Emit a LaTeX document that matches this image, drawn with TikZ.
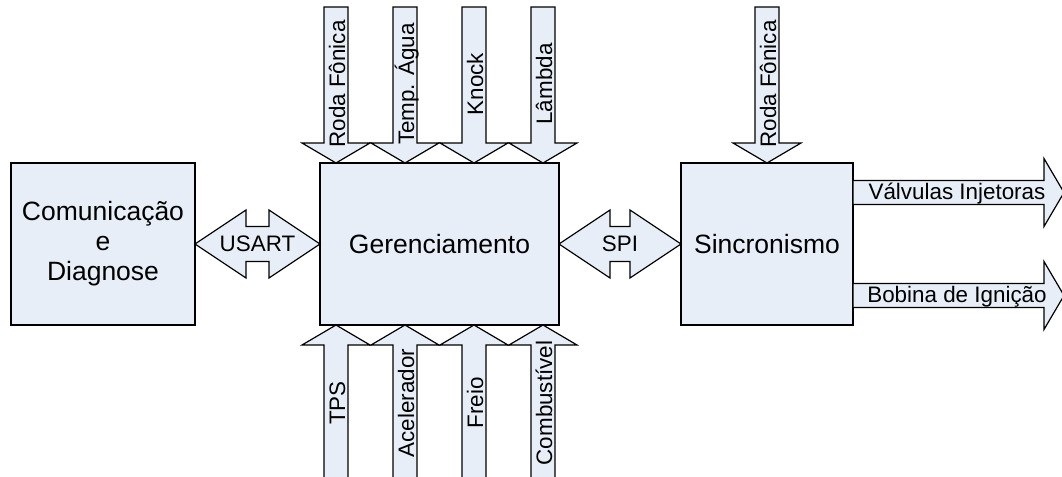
\documentclass[tikz,border=0pt]{standalone}
\usepackage{fontspec}
\setmainfont{Liberation Sans}
\usepackage{xcolor}
\usetikzlibrary{calc,positioning}
\definecolor{blockfill}{RGB}{232,238,248}

\begin{document}
\begin{tikzpicture}[
x=0.5pt,y=-0.5pt,
box/.style={draw,fill=blockfill,line width=0.6pt,align=center,minimum height=81pt,inner sep=0pt,outer sep=0pt,font=\fontsize{13.25}{15}\selectfont},
lbl/.style={inner sep=0pt,text height=0.72em,text depth=0pt,font=\fontsize{11.2}{13}\selectfont},
vlbl/.style={lbl,rotate=90},
sig/.style={draw,fill=blockfill,line width=0.6pt,to path={
  let \p1=($(\tikztotarget)!10pt!(\tikztostart)$) in
  ($(\tikztostart)!6pt!90:(\tikztotarget)$) -- ($(\p1)!6pt!90:(\tikztotarget)$)
  -- ($(\p1)!17pt!90:(\tikztotarget)$) -- (\tikztotarget)
  -- ($(\p1)!17pt!-90:(\tikztotarget)$) -- ($(\p1)!6pt!-90:(\tikztotarget)$)
  -- ($(\tikztostart)!6pt!-90:(\tikztotarget)$) -- cycle}},
bus/.style={draw,fill=blockfill,line width=0.6pt,to path={
  let \p1=($(\tikztostart)!25.5pt!(\tikztotarget)$),
      \p2=($(\tikztotarget)!25.5pt!(\tikztostart)$) in
  (\tikztostart) -- ($(\p1)!17pt!90:(\tikztotarget)$) -- ($(\p1)!8.75pt!90:(\tikztotarget)$)
  -- ($(\p2)!8.75pt!90:(\tikztotarget)$) -- ($(\p2)!17pt!90:(\tikztotarget)$)
  -- (\tikztotarget)
  -- ($(\p2)!17pt!-90:(\tikztotarget)$) -- ($(\p2)!8.75pt!-90:(\tikztotarget)$)
  -- ($(\p1)!8.75pt!-90:(\tikztotarget)$) -- ($(\p1)!17pt!-90:(\tikztotarget)$)
  -- cycle}}
]
\useasboundingbox (0,0) rectangle (1062,477);
\clip (0,0) rectangle (1062,477);

% blocos
\node[box,minimum width=92pt] (com) at (103,244) {Comunicação\\e\\Diagnose};
\node[box,minimum width=119.5pt,right=62.5pt of com] (ger) {Gerenciamento};
\node[box,minimum width=86pt,right=61pt of ger] (sin) {Sincronismo};

% entradas e saidas
\coordinate (rf1) at (336,7);
\coordinate (tmp) at (405,7);
\coordinate (knk) at (474,7);
\coordinate (lmb) at (543,7);
\coordinate (tps) at (336,482);
\coordinate (acl) at (405,482);
\coordinate (fre) at (474,482);
\coordinate (cmb) at (543,482);
\coordinate (rf2) at (767,7);
\coordinate (vin) at (1064,192.5);
\coordinate (bob) at (1064,295.5);

\draw[sig] (rf1) to (rf1 |- ger.north);
\draw[sig] (tmp) to (tmp |- ger.north);
\draw[sig] (knk) to (knk |- ger.north);
\draw[sig] (lmb) to (lmb |- ger.north);
\draw[sig] (tps) to (tps |- ger.south);
\draw[sig] (acl) to (acl |- ger.south);
\draw[sig] (fre) to (fre |- ger.south);
\draw[sig] (cmb) to (cmb |- ger.south);
\draw[sig] (rf2) to (rf2 |- sin.north);
\draw[sig] (vin -| sin.east) to (vin);
\draw[sig] (bob -| sin.east) to (bob);
\draw[bus] (com.east) to (ger.west);
\draw[bus] (ger.east) to (sin.west);

% rotulos
\node[vlbl] (lrf1) at ($(rf1)+(2,77)$) {Roda Fônica};
\node[vlbl] (ltmp) at ($(tmp)+(2,77)$) {Temp. Água};
\node[vlbl] (lknk) at ($(knk)+(2,77)$) {Knock};
\node[vlbl] (llmb) at ($(lmb)+(2,77)$) {Lâmbda};
\node[vlbl] (ltps) at ($(tps)+(2,-79)$) {TPS};
\node[vlbl] (lacl) at ($(acl)+(2,-79)$) {Acelerador};
\node[vlbl] (lfre) at ($(fre)+(2,-79)$) {Freio};
\node[vlbl] (lcmb) at ($(cmb)+(2,-79)$) {Combustível};
\node[vlbl] (lrf2) at ($(rf2)+(2,77)$) {Roda Fônica};
\node[lbl] (lvin) at ($(vin)+(-107,0)$) {Válvulas Injetoras};
\node[lbl] (lbob) at ($(bob)+(-107,0)$) {Bobina de Ignição};
\node[lbl] (lusart) at ($(com.east)!.5!(ger.west)$) {USART};
\node[lbl] (lspi) at ($(ger.east)!.5!(sin.west)$) {SPI};
\end{tikzpicture}
\end{document}
